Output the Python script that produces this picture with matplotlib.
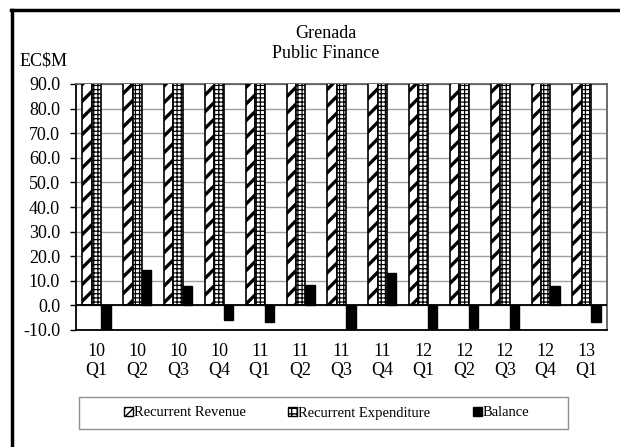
import numpy as np
import matplotlib
matplotlib.use("Agg")
import matplotlib.pyplot as plt
from matplotlib.patches import Patch, Rectangle
from matplotlib.lines import Line2D

plt.rcParams['font.family'] = ['Liberation Serif', 'DejaVu Serif']

# quarters 2010 Q1 .. 2013 Q1
years = ["10", "10", "10", "10", "11", "11", "11", "11", "12", "12", "12", "12", "13"]
quarters = ["Q1", "Q2", "Q3", "Q4", "Q1", "Q2", "Q3", "Q4", "Q1", "Q2", "Q3", "Q4", "Q1"]

# EC$ millions (revenue / expenditure run off the top of the scale)
revenue = [104.0, 118.0, 112.0, 109.0, 106.0, 115.0, 101.0, 121.0, 103.0, 108.0, 102.0, 117.0, 105.0]
balance = [-10.5, 14.3, 7.9, -6.0, -6.7, 8.3, -10.0, 13.3, -10.5, -9.1, -10.5, 7.9, -6.8]
expenditure = [r - b for r, b in zip(revenue, balance)]

labels = [f"{y}\n{q}" for y, q in zip(years, quarters)]
x = np.arange(len(labels))
w = 0.23

fig = plt.figure(figsize=(6.2, 4.47), dpi=100)
ax = fig.add_axes([76 / 620, 1 - 330 / 447, (607 - 76) / 620, (330 - 84) / 447])

def hatched_bars(xs, vals, hatch, hlw):
    with plt.rc_context({'hatch.linewidth': hlw}):
        bars = ax.bar(xs, vals, w, color='white', edgecolor='black',
                      linewidth=1.2, hatch=hatch, zorder=3)
    for b in bars:
        if hasattr(b, 'set_hatch_linewidth'):
            b.set_hatch_linewidth(hlw)
    return bars

hatched_bars(x - w, revenue, '//', 2.4)
hatched_bars(x, expenditure, '++++', 0.9)
ax.bar(x + w, balance, w, color='black', edgecolor='black', linewidth=1, zorder=3)

ax.set_ylim(-10, 90)
ax.set_xlim(-0.5, len(labels) - 0.5)
ax.set_yticks(np.arange(-10, 91, 10))
ax.set_yticklabels([f"{v:.1f}" for v in np.arange(-10, 91, 10)], fontsize=13)
ax.set_xticks(x)
ax.set_xticklabels(labels, fontsize=13, linespacing=1.2)
ax.tick_params(axis='x', length=0, pad=9)
ax.tick_params(axis='y', length=4.5, width=1, pad=7, direction='out')
ax.yaxis.grid(True, color='#a0a0a0', linewidth=1, zorder=0)
ax.set_axisbelow(True)
ax.axhline(0, color='black', linewidth=1.3, zorder=4)
for s in ax.spines.values():
    s.set_linewidth(1.3)
    s.set_color('black')
ax.spines['top'].set_color('#606060')
ax.spines['right'].set_color('#606060')

fig.text(0.525, 1 - 33 / 447, "Grenada", ha='center', va='center', fontsize=13)
fig.text(0.525, 1 - 54 / 447, "Public Finance", ha='center', va='center', fontsize=13)
fig.text(20 / 620, 1 - 61 / 447, "EC$M", ha='left', va='center', fontsize=13)

# outer chart border (top and left edges visible)
fig.add_artist(Line2D([12 / 620, 12 / 620], [0, 1 - 10 / 447], transform=fig.transFigure,
                      color='black', linewidth=2.5))
fig.add_artist(Line2D([11 / 620, 1], [1 - 10 / 447, 1 - 10 / 447], transform=fig.transFigure,
                      color='black', linewidth=2.5))

# legend with a separate frame
fig.add_artist(Rectangle((79 / 620, 1 - 429 / 447), (568 - 79) / 620, 32 / 447,
                         transform=fig.transFigure, facecolor='white',
                         edgecolor='#909090', linewidth=1))
with plt.rc_context({'hatch.linewidth': 1.5}):
    handles = [Patch(facecolor='white', edgecolor='black', hatch='////', label='Recurrent Revenue'),
               Patch(facecolor='white', edgecolor='black', hatch='+++', label='Recurrent Expenditure'),
               Patch(facecolor='black', edgecolor='black', label='Balance')]
fig.legend(handles=handles, loc='center', bbox_to_anchor=(0.527, 1 - 413 / 447),
           ncol=3, frameon=False, fontsize=10.5, handlelength=0.6, handleheight=0.6,
           handletextpad=0.1, columnspacing=2.9)

fig.savefig("out.png", dpi=100)
